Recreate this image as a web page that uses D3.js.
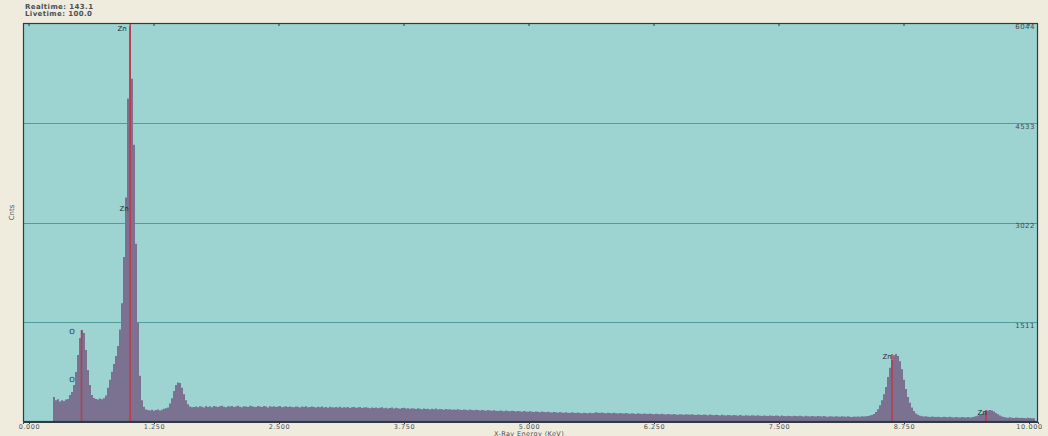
<!DOCTYPE html>
<html>
<head>
<meta charset="utf-8">
<script src="https://cdn.jsdelivr.net/npm/d3@7"></script>
<style>
  html, body { margin: 0; padding: 0; background: #efecde; }
  svg { display: block; }
  text { font-family: "DejaVu Sans", sans-serif; }
</style>
</head>
<body>
<svg id="chart" width="1048" height="436"></svg>
<script>
// EDS spectrum: counts per 0.02 keV channel, first channel at 0.24 keV
const channelStart = 0.24;
const channelWidth = 0.02;
const counts = [
  380, 330, 345, 310, 330, 320, 340, 350, 409, 455,
  560, 757, 1015, 1273, 1394, 1348, 1091, 788, 560, 409,
  364, 350, 340, 355, 345, 360, 400, 520, 640, 760,
  880, 1000, 1150, 1400, 1800, 2500, 3400, 4900, 6000, 5200,
  4200, 2700, 1500, 700, 330, 230, 190, 180, 175, 185,
  170, 180, 190, 175, 185, 200, 210, 220, 280, 360,
  470, 560, 600, 590, 520, 420, 330, 270, 235, 225,
  228, 236, 222, 240, 231, 218, 244, 229, 237, 225,
  241, 233, 226, 238, 247, 230, 222, 239, 234, 243,
  229, 236, 248, 231, 224, 240, 235, 227, 245, 238,
  232, 226, 241, 236, 229, 244, 233, 221, 237, 230,
  239, 228, 234, 242, 225, 231, 238, 227, 235, 229,
  224, 236, 230, 218, 233, 227, 240, 222, 229, 234,
  226, 219, 231, 225, 236, 221, 228, 217, 230, 224,
  218, 227, 221, 232, 215, 224, 219, 228, 213, 222,
  226, 214, 220, 229, 211, 218, 224, 216, 209, 221,
  213, 219, 207, 216, 222, 210, 215, 204, 212, 218,
  206, 214, 209, 201, 211, 216, 203, 208, 199, 210,
  204, 197, 207, 200, 193, 205, 198, 202, 191, 199,
  195, 203, 189, 197, 192, 186, 198, 190, 194, 185,
  191, 184, 193, 187, 181, 190, 185, 179, 188, 182,
  177, 186, 180, 174, 183, 178, 171, 181, 175, 169,
  178, 172, 166, 175, 170, 164, 173, 167, 161, 170,
  165, 159, 168, 162, 156, 165, 160, 154, 163, 157,
  152, 160, 155, 149, 158, 151, 146, 155, 149, 144,
  152, 147, 141, 150, 144, 139, 148, 142, 137, 146,
  140, 135, 144, 138, 133, 141, 136, 131, 140, 134,
  137, 146, 140, 135, 144, 138, 133, 142, 136, 131,
  140, 134, 129, 138, 132, 127, 136, 130, 125, 134,
  128, 123, 132, 126, 121, 130, 124, 120, 128, 123,
  118, 126, 121, 116, 125, 119, 114, 123, 117, 113,
  121, 115, 111, 119, 114, 109, 118, 112, 108, 116,
  111, 106, 115, 109, 105, 113, 108, 103, 112, 106,
  102, 110, 105, 100, 109, 103, 99, 107, 102, 98,
  106, 101, 96, 105, 99, 95, 104, 98, 94, 102,
  97, 93, 101, 96, 92, 100, 95, 91, 99, 94,
  90, 98, 93, 89, 97, 92, 88, 96, 91, 87,
  95, 90, 86, 94, 89, 85, 93, 88, 84, 92,
  87, 83, 91, 86, 82, 90, 85, 81, 89, 84,
  80, 88, 83, 79, 87, 82, 78, 86, 81, 77,
  85, 80, 84, 79, 86, 83, 88, 92, 97, 105,
  120, 150, 195, 255, 330, 420, 530, 680, 820, 940,
  1010, 1030, 1000, 920, 800, 640, 500, 380, 290, 220,
  165, 130, 108, 95, 88, 82, 86, 80, 77, 83,
  78, 74, 81, 76, 72, 79, 75, 71, 78, 73,
  70, 76, 72, 68, 75, 71, 67, 74, 70, 73,
  78, 86, 97, 110, 126, 145, 162, 176, 182, 174,
  158, 138, 116, 98, 84, 76, 70, 66, 71, 65,
  62, 68, 64, 60, 66, 61, 58, 63, 59, 56,
  58
];

// Element line markers (energy keV, marker height in counts)
const lineNames   = ["O", "Zn", "Zn", "Zn"];
const lineEnergy  = [0.525, 1.012, 8.630, 9.570];
const lineHeight  = [1394, 6044, 1030, 182];

// Peak labels (text, energy keV, counts)
const labelText   = ["O", "O", "Zn", "Zn", "Zn", "Zn"];
const labelEnergy = [0.43, 0.43, 0.93, 0.95, 8.58, 9.53];
const labelCounts = [1360, 640, 5950, 3230, 985, 140];

// Axis ticks
const xTicks = [0, 1.25, 2.5, 3.75, 5, 6.25, 7.5, 8.75, 10];
const yTicks = [1511, 3022, 4533, 6044];

const headerLines = ["Realtime: 143.1", "Livetime: 100.0"];
const xTitle = "X-Ray Energy (KeV)";
const yTitle = "Cnts";

const svg = d3.select("#chart");
const plotLeft = 23, plotRight = 1038, plotTop = 23, plotBottom = 422;

const x = d3.scaleLinear().domain([-0.06, 10.09]).range([plotLeft, plotRight]);
const y = d3.scaleLinear().domain([0, 6044]).range([plotBottom, plotTop]);

// plot background
svg.append("rect")
  .attr("x", plotLeft).attr("y", plotTop)
  .attr("width", plotRight - plotLeft).attr("height", plotBottom - plotTop)
  .attr("fill", "#9dd4d2");

// horizontal grid lines
svg.append("g")
  .selectAll("line").data(yTicks.slice(0, -1)).join("line")
  .attr("x1", plotLeft).attr("x2", plotRight)
  .attr("y1", d => Math.round(y(d)) + 0.5).attr("y2", d => Math.round(y(d)) + 0.5)
  .attr("stroke", "#4f9e9c").attr("stroke-width", 1);

// spectrum as stepped channels
const pts = counts.map((c, i) => ({ e: channelStart + i * channelWidth, c }));
pts.push({ e: channelStart + counts.length * channelWidth, c: counts[counts.length - 1] });

svg.append("clipPath").attr("id", "plotClip")
  .append("rect").attr("x", plotLeft).attr("y", plotTop)
  .attr("width", plotRight - plotLeft).attr("height", plotBottom - plotTop);

svg.append("path")
  .datum(pts)
  .attr("clip-path", "url(#plotClip)")
  .attr("fill", "#7a7290")
  .attr("d", d3.area().curve(d3.curveStepAfter)
    .x(d => x(d.e)).y0(y(0)).y1(d => y(d.c)));

// element line markers
svg.append("g")
  .selectAll("line").data(lineEnergy).join("line")
  .attr("x1", d => x(d)).attr("x2", d => x(d))
  .attr("y1", y(0)).attr("y2", (d, i) => y(lineHeight[i]))
  .attr("stroke", "#c33443").attr("stroke-width", 1.6)
  .attr("opacity", 0.85);

// peak labels
svg.append("g")
  .selectAll("text").data(labelText).join("text")
  .attr("x", (d, i) => x(labelEnergy[i]))
  .attr("y", (d, i) => y(labelCounts[i]))
  .attr("text-anchor", "middle")
  .attr("dominant-baseline", "middle")
  .attr("font-size", 7).attr("fill", "#1f2b33")
  .text(d => d);

// frame
svg.append("rect")
  .attr("x", plotLeft + 0.5).attr("y", plotTop + 0.5)
  .attr("width", plotRight - plotLeft - 1).attr("height", plotBottom - plotTop - 1)
  .attr("fill", "none").attr("stroke", "#2e3b40").attr("stroke-width", 1.2);

// x axis
const xAxis = d3.axisBottom(x).tickValues(xTicks).tickFormat(d3.format(".3f"))
  .tickSize(2).tickPadding(0);
const gx = svg.append("g").attr("transform", `translate(0,${plotBottom})`).call(xAxis);
gx.select(".domain").attr("stroke", "#2e3b40");
gx.selectAll(".tick line").attr("stroke", "#2e3b40");
gx.selectAll(".tick text").attr("font-size", 6.5).attr("fill", "#4a4f55")
  .attr("font-family", "DejaVu Sans, sans-serif").attr("letter-spacing", 0.6);

// small top ticks
svg.append("g")
  .selectAll("line").data(xTicks).join("line")
  .attr("x1", d => x(d)).attr("x2", d => x(d))
  .attr("y1", plotTop).attr("y2", plotTop + 3)
  .attr("stroke", "#2e3b40");

// right-side count labels
svg.append("g")
  .selectAll("text").data(yTicks).join("text")
  .attr("x", plotRight - 3)
  .attr("y", d => y(d) + 4)
  .attr("text-anchor", "end")
  .attr("dominant-baseline", "middle")
  .attr("font-size", 7).attr("fill", "#3d4a50").attr("letter-spacing", 0.5)
  .text(d => d);

// axis titles
svg.append("text")
  .attr("x", (x(0) + x(10)) / 2).attr("y", 435.5)
  .attr("text-anchor", "middle").attr("font-size", 6.5).attr("fill", "#4a4f55")
  .attr("letter-spacing", 0.4)
  .text(xTitle);

svg.append("text")
  .attr("transform", `translate(14,${(plotTop + plotBottom) / 2 - 10}) rotate(-90)`)
  .attr("text-anchor", "middle").attr("font-size", 7).attr("fill", "#4a4f55")
  .text(yTitle);

// acquisition info
svg.append("g")
  .selectAll("text").data(headerLines).join("text")
  .attr("x", 25).attr("y", (d, i) => 9 + i * 7)
  .attr("font-size", 7).attr("font-weight", "bold").attr("fill", "#4a4f55")
  .attr("letter-spacing", 0.4)
  .text(d => d);
</script>
</body>
</html>
